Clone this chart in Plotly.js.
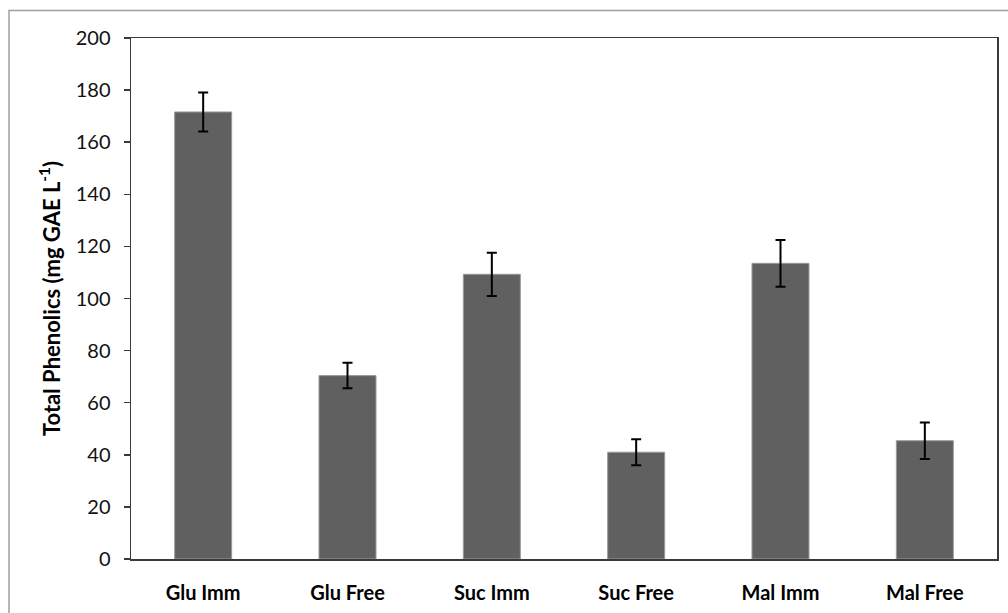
<!DOCTYPE html>
<html>
<head>
<meta charset="utf-8">
<script src="https://cdn.plot.ly/plotly-3.0.1.min.js"></script>
<style>
html,body{margin:0;padding:0;background:#fff;}
#chart{width:1008px;height:613px;}
</style>
</head>
<body>
<div id="chart"></div>
<script>
const categories = ["Glu Imm", "Glu Free", "Suc Imm", "Suc Free", "Mal Imm", "Mal Free"];
const values = [171.6, 70.4, 109.3, 41.0, 113.5, 45.4];
const errors = [7.5, 4.9, 8.3, 5.0, 9.0, 7.0];
const yTicks = [0, 20, 40, 60, 80, 100, 120, 140, 160, 180, 200];

const trace = {
  type: 'bar',
  x: categories,
  y: values,
  marker: {color: '#606060', line: {color: '#9a9a9a', width: 1}},
  error_y: {type: 'data', array: errors, visible: true, color: '#000000', thickness: 2, width: 5},
  hoverinfo: 'none'
};

const fontFam = 'Lato, "Open Sans", sans-serif';
const layout = {
  width: 1008, height: 613,
  margin: {l: 131, r: 11, t: 38, b: 54},
  paper_bgcolor: '#ffffff',
  plot_bgcolor: '#ffffff',
  bargap: 0.605,
  showlegend: false,
  xaxis: {
    type: 'category',
    showline: true, linecolor: '#3a3a3a', linewidth: 1.5, mirror: true,
    ticks: '', showgrid: false, zeroline: false,
    tickfont: {family: fontFam, size: 20, color: '#000', weight: 'bold'},
    ticklabelstandoff: 15
  },
  yaxis: {
    range: [0, 200],
    tickvals: yTicks,
    ticktext: yTicks.map(String),
    showline: true, linecolor: '#3a3a3a', linewidth: 1.5, mirror: true,
    ticks: 'outside', ticklen: 6, tickcolor: '#3a3a3a', tickwidth: 1.5,
    showgrid: false, zeroline: false,
    tickfont: {family: fontFam, size: 20, color: '#111'},
    ticklabelstandoff: 9,
    title: {text: '<b>Total Phenolics (mg GAE L<sup>-1</sup>)</b>', font: {family: fontFam, size: 22, color: '#000'}, standoff: 9}
  },
  shapes: [{
    type: 'rect', xref: 'paper', yref: 'paper',
    x0: (9 - 131) / 866, x1: (1012 - 131) / 866,
    y0: (559 - 616) / 521, y1: (559 - 10.5) / 521,
    line: {color: '#a0a0a0', width: 1.5}, fillcolor: 'rgba(0,0,0,0)', layer: 'below'
  }]
};

Plotly.newPlot('chart', [trace], layout, {displayModeBar: false, staticPlot: true});
</script>
</body>
</html>
